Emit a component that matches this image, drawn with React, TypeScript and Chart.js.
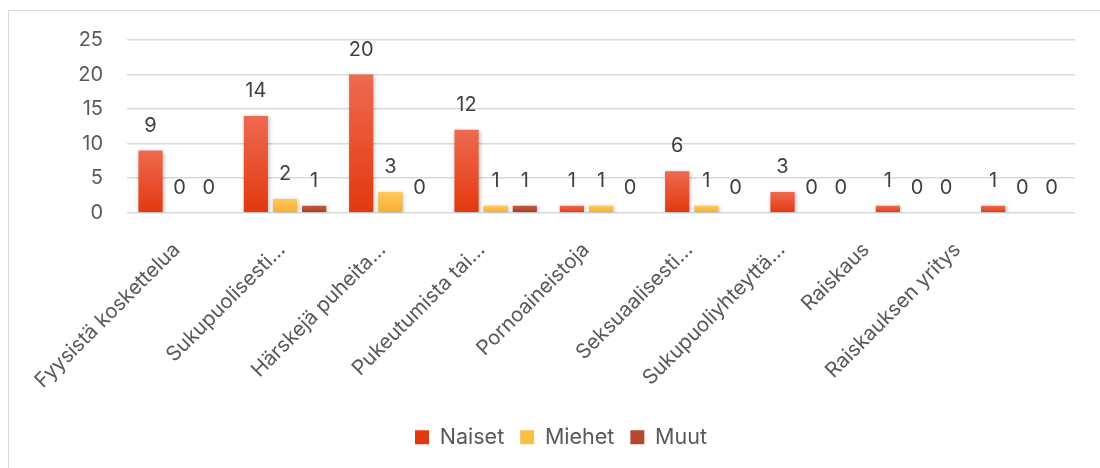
import React, { useEffect, useRef } from 'react';
import { Chart, registerables } from 'chart.js';

Chart.register(...registerables);

const categories = [
  'Fyysistä koskettelua',
  'Sukupuolisesti…',
  'Härskejä puheita…',
  'Pukeutumista tai…',
  'Pornoaineistoja',
  'Seksuaalisesti…',
  'Sukupuoliyhteyttä…',
  'Raiskaus',
  'Raiskauksen yritys',
];
const seriesNames = ['Naiset', 'Miehet', 'Muut'];
const naiset = [9, 14, 20, 12, 1, 6, 3, 1, 1];
const miehet = [0, 2, 3, 1, 1, 1, 0, 0, 0];
const muut = [0, 1, 0, 1, 0, 0, 0, 0, 0];
const yMin = 0;
const yMax = 25;
const yStep = 5;

// style: per-label horizontal nudge of the rotated category labels (as laid out in the original)
const labelNudge = [0, 0, -5, -11, -12, -14, -27, -48, -62];

const FONT = 'Inter, "Liberation Sans", sans-serif';
const TEXT = '#595959';

function gradFill(top: string, bottom: string, solid: string) {
  return (ctx: any) => {
    if (ctx.type !== 'data') return solid;
    const chart = ctx.chart;
    const ys = chart.scales && chart.scales.y;
    if (!ys || !chart.chartArea) return solid;
    const v = ctx.raw as number;
    const yTop = ys.getPixelForValue(v);
    const yBase = ys.getPixelForValue(0);
    if (!isFinite(yTop) || !isFinite(yBase) || Math.abs(yBase - yTop) < 1) return solid;
    const g = chart.ctx.createLinearGradient(0, yTop, 0, yBase);
    g.addColorStop(0, top);
    g.addColorStop(1, bottom);
    return g;
  };
}

const barDecor = {
  id: 'barDecor',
  beforeDatasetsDraw(chart: any) {
    const c = chart.ctx;
    c.save();
    c.shadowColor = 'rgba(0,0,0,0.28)';
    c.shadowBlur = 4;
    c.shadowOffsetX = 1;
    c.shadowOffsetY = 1;
  },
  afterDatasetsDraw(chart: any) {
    const c = chart.ctx;
    c.restore();
    c.save();
    c.font = `20px ${FONT}`;
    c.fillStyle = '#404040';
    c.textAlign = 'center';
    c.textBaseline = 'middle';
    chart.data.datasets.forEach((ds: any, i: number) => {
      const meta = chart.getDatasetMeta(i);
      meta.data.forEach((el: any, j: number) => {
        c.fillText(String(ds.data[j]), el.x, el.y - 25);
      });
    });
    c.restore();
  },
};

export default function App() {
  const ref = useRef<HTMLCanvasElement | null>(null);

  useEffect(() => {
    if (!ref.current) return;
    const chart = new Chart(ref.current, {
      type: 'bar',
      data: {
        labels: categories,
        datasets: [
          {
            label: seriesNames[0],
            data: naiset,
            backgroundColor: gradFill('#EE6A50', '#E3380E', '#E8431C'),
            borderWidth: 0,
          },
          {
            label: seriesNames[1],
            data: miehet,
            backgroundColor: gradFill('#FFC95C', '#F5B02C', '#FBBF47'),
            borderWidth: 0,
          },
          {
            label: seriesNames[2],
            data: muut,
            backgroundColor: gradFill('#C45A44', '#A83A1E', '#B5472C'),
            borderWidth: 0,
          },
        ],
      },
      options: {
        responsive: false,
        animation: false,
        devicePixelRatio: 1,
        layout: { padding: { left: 38, right: 25, top: 29, bottom: 10 } },
        datasets: {
          bar: { categoryPercentage: 0.83, barPercentage: 0.83 },
        },
        plugins: {
          tooltip: { enabled: false },
          legend: {
            position: 'bottom',
            labels: {
              boxWidth: 14,
              boxHeight: 14,
              padding: 16,
              color: TEXT,
              font: { family: FONT, size: 21.5 },
            },
          },
        },
        scales: {
          x: {
            grid: { display: false, drawTicks: false },
            border: { display: false },
            ticks: {
              autoSkip: false,
              maxRotation: 45,
              minRotation: 45,
              padding: 25,
              labelOffset: -3,
              color: TEXT,
              font: { family: FONT, size: 20.5 },
            },
            afterFit: (s: any) => {
              s.height = 197.8;
              s.paddingLeft = 0;
              s.paddingRight = 0;
              if (!s.__nudged) {
                const orig = Object.getPrototypeOf(s)._computeLabelItems;
                s._computeLabelItems = function (area: any) {
                  const items = orig.call(this, area);
                  items.forEach((it: any, i: number) => {
                    if (it && it.options && it.options.translation) {
                      it.options.translation[0] += labelNudge[i] || 0;
                    }
                  });
                  return items;
                };
                s.__nudged = true;
              }
            },
          },
          y: {
            min: yMin,
            max: yMax,
            grid: { color: '#D9D9D9', lineWidth: 1.5, drawTicks: false },
            border: { display: false },
            ticks: {
              stepSize: yStep,
              padding: 24,
              color: TEXT,
              font: { family: FONT, size: 20 },
            },
            afterFit: (s: any) => {
              s.width = 80;
              s.paddingTop = 0;
            },
          },
        },
      },
      plugins: [barDecor],
    } as any);
    return () => chart.destroy();
  }, []);

  return (
    <div
      style={{
        position: 'absolute',
        left: 8,
        top: 10,
        width: 1092,
        height: 458,
        overflow: 'hidden',
        borderLeft: '1px solid #D9D9D9',
        borderTop: '1px solid #D9D9D9',
        background: '#fff',
      }}
    >
      <canvas ref={ref} width={1091} height={457} style={{ display: 'block' }} />
    </div>
  );
}
